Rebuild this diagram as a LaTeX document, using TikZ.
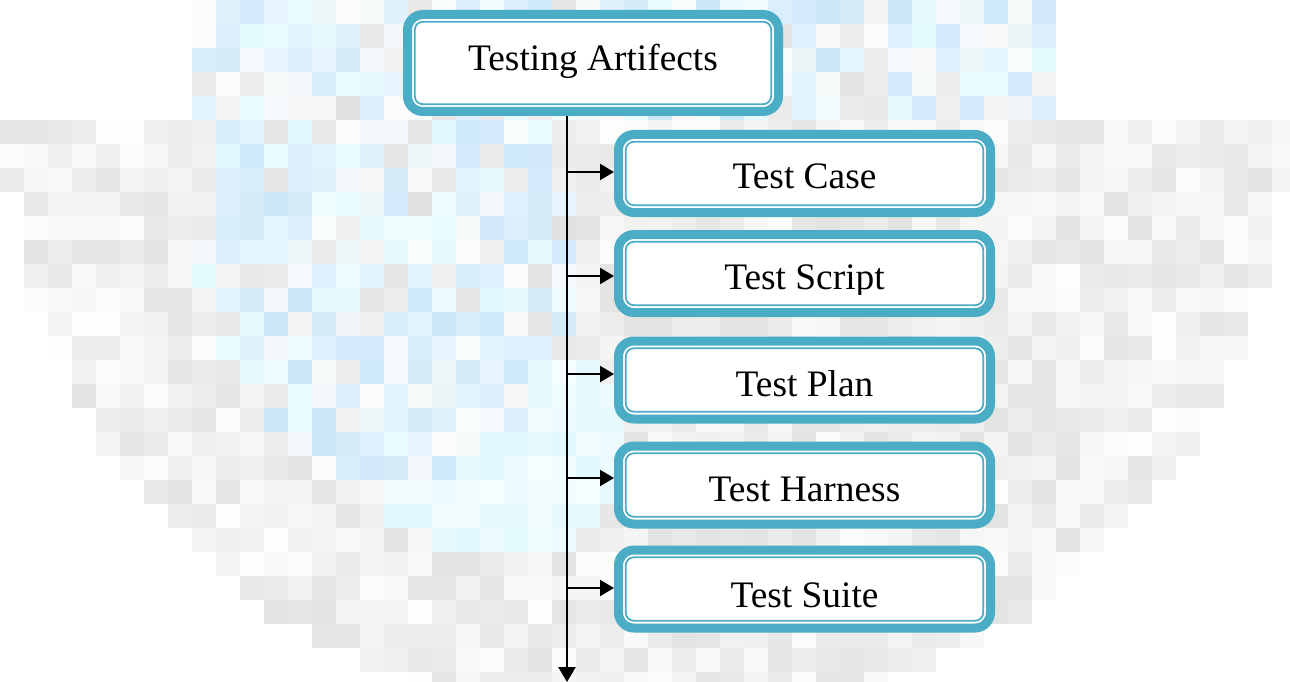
\documentclass[tikz,border=0pt]{standalone}
\usepackage{fontspec}
\setmainfont{Liberation Serif}
\usetikzlibrary{arrows.meta}
\definecolor{teal5}{RGB}{75,172,198}
\begin{document}
\begin{tikzpicture}[x=1pt,y=-1pt,
  artbox/.style={draw=teal5, line width=9pt, outer sep=4.5pt, fill=white,
    rounded corners=15.5pt, minimum width=372pt, minimum height=78pt,
    inner sep=0pt, text depth=0pt, font=\fontsize{37.4}{40}\selectfont},
  innerline/.style={draw=teal5, line width=1.8pt, rounded corners=8pt},
  feed/.style={line width=2.1pt, -{Triangle[length=14pt,width=16pt]}},
  trunk/.style={line width=2.7pt, -{Triangle[length=15pt,width=17pt]}}]
\useasboundingbox (0,0) rectangle (1290,682);
% pixelated watermark background
\pgfmathsetseed{12}
\foreach \i in {0,...,53}{
  \foreach \j in {0,...,28}{
    \pgfmathsetmacro\cx{\i*24+12}
    \pgfmathsetmacro\cy{\j*24+12}
    \pgfmathtruncatemacro\cat{ifthenelse(\cy<120, ifthenelse(and(\cx>180,\cx<1060),1,0), ifthenelse(((\cx-390)/190)^2+((\cy-250)/230)^2<1,1, ifthenelse(((\cx-500)/130)^2+((\cy-450)/110)^2<1,3, ifthenelse(((\cx-647)/640)^2+((\cy-125)/600)^2<1,2,0))))}
    \pgfmathsetmacro\pick{rnd}
    \pgfmathsetmacro\tt{rnd}
    \ifnum\cat=1
      \pgfmathtruncatemacro\sel{ifthenelse(\pick<0.4,1,ifthenelse(\pick<0.6,2,ifthenelse(\pick<0.8,3,4)))}
      \ifcase\sel\or
        \pgfmathtruncatemacro\rr{206+25*\tt}\pgfmathtruncatemacro\gg{232+14*\tt}\pgfmathtruncatemacro\bb{249+5*\tt}
      \or
        \pgfmathtruncatemacro\rr{222+20*\tt}\pgfmathtruncatemacro\gg{248+6*\tt}\pgfmathtruncatemacro\bb{254}
      \or
        \pgfmathtruncatemacro\rr{236+16*\tt}\pgfmathtruncatemacro\gg{244+10*\tt}\pgfmathtruncatemacro\bb{248+6*\tt}
      \or
        \pgfmathtruncatemacro\rr{226+26*\tt}\pgfmathtruncatemacro\gg{\rr}\pgfmathtruncatemacro\bb{\rr-2}
      \fi
    \fi
    \ifnum\cat=3
      \pgfmathtruncatemacro\rr{222+25*\tt}\pgfmathtruncatemacro\gg{248+6*\tt}\pgfmathtruncatemacro\bb{254}
    \fi
    \ifnum\cat=2
      \pgfmathtruncatemacro\rr{227+27*\tt}\pgfmathtruncatemacro\gg{\rr}\pgfmathtruncatemacro\bb{\rr-2}
    \fi
    \ifnum\cat>0
      \definecolor{cc}{RGB}{\rr,\gg,\bb}
      \fill[cc] (\i*24,\j*24) rectangle ++(24,24);
    \fi
  }
}
% boxes
\node[artbox, minimum width=371pt, minimum height=97pt, text height=16pt] (title) at (593,63) {Testing Artifects};
\node[artbox, text height=29.6pt] (case) at (804.5,173.5) {Test Case};
\node[artbox, text height=31.6pt] (script) at (804.5,273.5) {Test Script};
\node[artbox, text height=32pt] (plan) at (804.5,380) {Test Plan};
\node[artbox, text height=33.4pt] (harness) at (804.5,485) {Test Harness};
\node[artbox, text height=36.6pt] (suite) at (804.5,589) {Test Suite};
\foreach \n in {title,case,script,plan,harness,suite}
  \draw[innerline] ([shift={(11.8,11.8)}]\n.north west) rectangle ([shift={(-11.8,-11.8)}]\n.south east);
% descender of "Script" clipped by the text frame
\fill[white] (845,294.5) rectangle (884,300.5);
% connectors
\coordinate (trunkend) at (567,682);
\draw[trunk] (title.south -| trunkend) -- (trunkend);
\coordinate (caseIn) at ([yshift=1.5pt]case.west);
\coordinate (scriptIn) at ([yshift=-2.5pt]script.west);
\coordinate (planIn) at ([yshift=6pt]plan.west);
\coordinate (harnessIn) at ([yshift=7pt]harness.west);
\coordinate (suiteIn) at ([yshift=1pt]suite.west);
\foreach \n in {caseIn,scriptIn,planIn,harnessIn,suiteIn}
  \draw[feed] (\n -| trunkend) -- (\n);
\end{tikzpicture}
\end{document}
